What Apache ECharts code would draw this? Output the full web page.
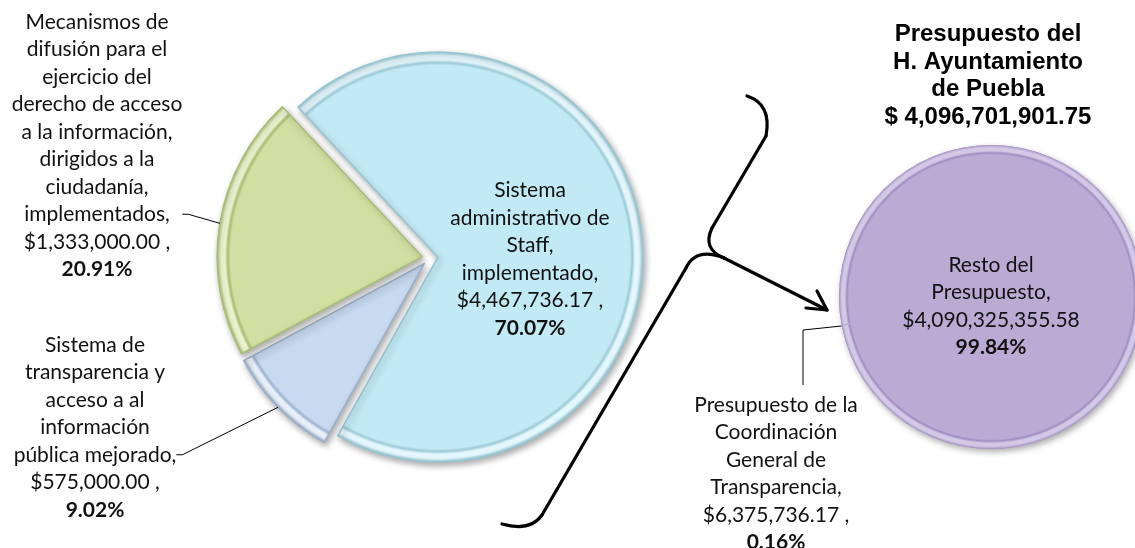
<!DOCTYPE html>
<html><head><meta charset="utf-8">
<script src="https://cdn.jsdelivr.net/npm/echarts@6/dist/echarts.min.js"></script>
<style>html,body{margin:0;padding:0;background:#fff}#c{width:1135px;height:548px}</style>
</head><body><div id="c"></div>
<script>
// ---- data ----
const leftCategories = [
  'Sistema\nadministrativo de\nStaff,\nimplementado,',
  'Sistema de\ntransparencia y\nacceso a al\ninformación\npública mejorado,',
  'Mecanismos de\ndifusión para el\nejercicio del\nderecho de acceso\na la información,\ndirigidos a la\nciudadanía,\nimplementados,'
];
const leftValues = [4467736.17, 575000.00, 1333000.00];
const leftSeparators = [' ,', ' ,', ' ,'];
const rightCategories = [
  'Presupuesto de la\nCoordinación\nGeneral de\nTransparencia,',
  'Resto del\nPresupuesto,'
];
const rightValues = [6375736.17, 4090325355.58];
const rightSeparators = [' ,', ''];
const titleLines = ['Presupuesto del', 'H. Ayuntamiento', 'de Puebla', '$ 4,096,701,901.75'];

// ---- styles ----
const leftColors = ['#C2EAF4', '#C7DAF0', '#D1E0A2'];
const leftBorders = ['#96C6D3', '#9AB0CB', '#AABD72'];
const leftDark = ['#9CCAD6', '#9DB3CF', '#A9BC72'];
const leftLight = ['#E4F7FC', '#E8F0FA', '#EEF5D2'];
const purple = '#BBAAD4';

function money(v) {
  const parts = v.toFixed(2).split('.');
  return '$' + parts[0].replace(/\B(?=(\d{3})+(?!\d))/g, ',') + '.' + parts[1];
}
function makeFormatter(seps) {
  return function (p) {
    return p.name + '\n' + money(p.value) + seps[p.dataIndex] + '\n{b|' + p.percent.toFixed(2) + '%}';
  };
}
function rim(x, y, r, global, base, dark, light, edge) {
  return {
    type: 'radial', x: x, y: y, r: r, global: global,
    colorStops: [
      { offset: 0, color: base }, { offset: 0.935, color: base },
      { offset: 0.948, color: dark }, { offset: 0.962, color: light },
      { offset: 0.982, color: light }, { offset: 1, color: edge }
    ]
  };
}
const LH = 27.5;
const baseLabel = {
  show: true, color: '#111', fontFamily: 'Lato', fontSize: 21, lineHeight: LH, align: 'center',
  rich: { b: { fontFamily: 'Lato', fontWeight: 'bold', fontSize: 21, lineHeight: LH, color: '#111' } }
};
const shadow = { shadowBlur: 6, shadowOffsetX: 2, shadowOffsetY: 3, shadowColor: 'rgba(0,0,0,0.33)' };
const noShadow = { shadowBlur: 0, shadowOffsetX: 0, shadowOffsetY: 0, shadowColor: 'rgba(0,0,0,0)' };

const leftLabelPlaces = [
  { x: 530, y: 259, align: 'center', verticalAlign: 'middle' },
  { x: 95, y: 331, align: 'center', verticalAlign: 'top' },
  { x: 97, y: 8, align: 'center', verticalAlign: 'top' }
];
const leftLabelItem = [
  { position: 'inside' },
  { position: 'outside', padding: [0, 0, 2 * LH, 0] },
  { position: 'outside', padding: [0, 0, 5 * LH, 0] }
];
const rightLabelPlaces = [
  { x: 803, y: 391, align: 'center', verticalAlign: 'top' },
  { x: 991, y: 306, align: 'center', verticalAlign: 'middle' }
];
const rightLabelItem = [
  { position: 'outside', padding: [0, 54, 0, 0] },
  { position: 'inside' }
];
const rightLeaderDrop = 61;

const chart = echarts.init(document.getElementById('c'));
const stroke = { stroke: '#000', lineWidth: 3.2, lineCap: 'round', lineJoin: 'round', fill: null };
const leftCenter = [430, 258], leftR = 205, leftOffset = 8, leftStart = 133;
const rightCenter = [991, 297], rightR = 152, rightStart = 191;
const rightGradient = rim(0.5, 0.5, 0.5, false, purple, '#A08DC0', '#D3C8E6', '#A592C4');

chart.setOption({
  animation: false,
  backgroundColor: '#fff',
  title: {
    text: titleLines.join('\n'), left: 988, top: 21, padding: 0,
    textAlign: 'center', textVerticalAlign: 'top',
    textStyle: { fontFamily: 'Liberation Sans', fontWeight: 'bold', fontSize: 24, lineHeight: LH, color: '#000' }
  },
  series: [
    {
      type: 'pie', z: 2, center: leftCenter, radius: leftR, startAngle: leftStart, clockwise: true,
      selectedMode: 'multiple', selectedOffset: leftOffset, avoidLabelOverlap: false,
      emphasis: { disabled: true }, silent: true,
      label: { show: false }, labelLine: { show: false },
      data: leftValues.map(function (v, i) {
        return {
          value: v, name: leftCategories[i], selected: true,
          itemStyle: Object.assign({}, shadow, {
            color: rim(leftCenter[0], leftCenter[1], leftR, true, leftColors[i], leftDark[i], leftLight[i], leftBorders[i]),
            borderColor: leftBorders[i], borderWidth: 1.5
          })
        };
      })
    },
    {
      type: 'pie', z: 3, center: leftCenter, radius: leftR + leftOffset, startAngle: leftStart, clockwise: true,
      avoidLabelOverlap: false, emphasis: { disabled: true }, silent: true,
      itemStyle: { color: 'rgba(0,0,0,0)', borderWidth: 0 },
      label: Object.assign({}, baseLabel, { formatter: makeFormatter(leftSeparators) }),
      labelLine: { show: true, length: 10, length2: 6, lineStyle: { color: '#000', width: 1 } },
      labelLayout: function (p) { return leftLabelPlaces[p.dataIndex]; },
      data: leftValues.map(function (v, i) {
        return { value: v, name: leftCategories[i], label: leftLabelItem[i], labelLine: { show: i !== 0 } };
      })
    },
    // shadowed disc under the right pie (whole budget)
    {
      type: 'pie', z: 1, center: rightCenter, radius: rightR, silent: true,
      emphasis: { disabled: true }, label: { show: false }, labelLine: { show: false },
      itemStyle: Object.assign({}, shadow, { color: rightGradient, borderWidth: 0 }),
      data: [{ value: rightValues[0] + rightValues[1], name: 'total' }]
    },
    {
      type: 'pie', z: 2, center: rightCenter, radius: rightR, startAngle: rightStart, clockwise: true,
      avoidLabelOverlap: false, emphasis: { disabled: true }, silent: true,
      label: Object.assign({}, baseLabel, { formatter: makeFormatter(rightSeparators) }),
      labelLine: { show: true, length: 10, length2: rightLeaderDrop, lineStyle: { color: '#000', width: 1 } },
      labelLayout: function (p) {
        const place = Object.assign({}, rightLabelPlaces[p.dataIndex]);
        if (p.dataIndex === 0 && p.rect) {
          const tip = [p.rect.x, p.rect.y + p.rect.height];
          place.labelLinePoints = [tip, [place.x, place.y - rightLeaderDrop], [place.x, place.y - 6]];
        }
        return place;
      },
      itemStyle: Object.assign({}, noShadow, { color: rightGradient, borderWidth: 0 }),
      data: rightValues.map(function (v, i) {
        return {
          value: v, name: rightCategories[i], label: rightLabelItem[i], labelLine: { show: i === 0 },
          itemStyle: i === 0 ? { color: purple } : {}
        };
      })
    }
  ],
  graphic: [
    { type: 'bezierCurve', shape: { x1: 747, y1: 96, cpx1: 772, cpy1: 104, x2: 766, y2: 136 }, style: stroke },
    { type: 'line', shape: { x1: 766, y1: 136, x2: 712, y2: 228 }, style: stroke },
    { type: 'bezierCurve', shape: { x1: 712, y1: 228, cpx1: 702, cpy1: 249, x2: 724, y2: 258 }, style: stroke },
    { type: 'line', shape: { x1: 724, y1: 258, x2: 827, y2: 310 }, style: stroke },
    { type: 'polyline', shape: { points: [[806, 308], [827, 310], [817, 291]] }, style: stroke },
    { type: 'bezierCurve', shape: { x1: 724, y1: 258, cpx1: 696, cpy1: 247, x2: 686, y2: 268 }, style: stroke },
    { type: 'line', shape: { x1: 686, y1: 268, x2: 542, y2: 515 }, style: stroke },
    { type: 'bezierCurve', shape: { x1: 542, y1: 515, cpx1: 530, cpy1: 532, x2: 502, y2: 524 }, style: stroke }
  ]
});
</script></body></html>
